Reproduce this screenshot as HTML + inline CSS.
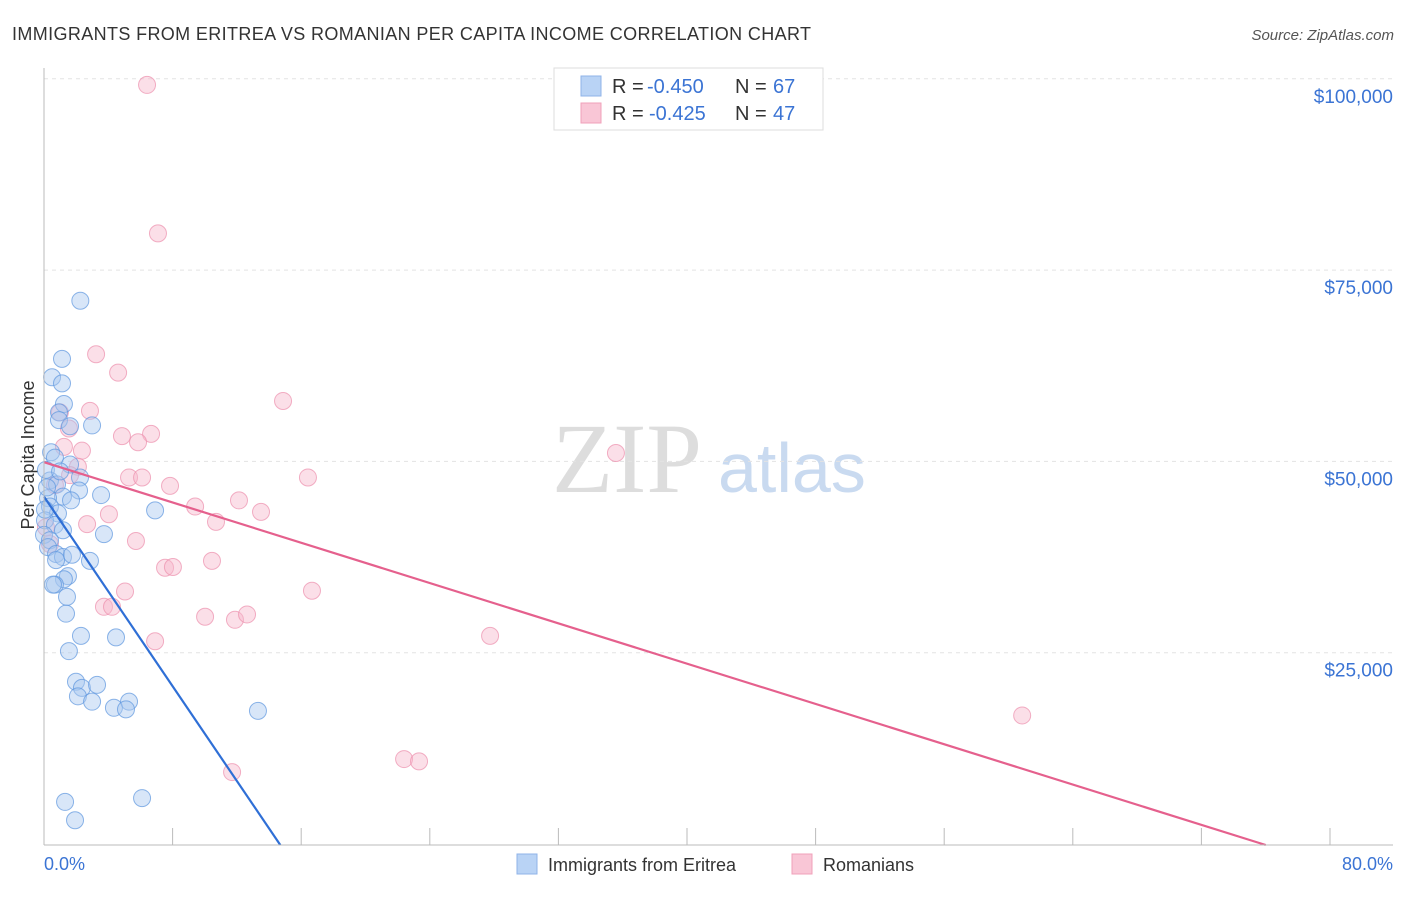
<!DOCTYPE html>
<html><head><meta charset="utf-8"><style>
body{margin:0;background:#fff;font-family:"Liberation Sans",sans-serif}
</style></head><body>
<svg id="c" width="1406" height="892" xmlns="http://www.w3.org/2000/svg">
<text x="12" y="40" font-size="18" fill="#333" textLength="799">IMMIGRANTS FROM ERITREA VS ROMANIAN PER CAPITA INCOME CORRELATION CHART</text>
<text x="1394" y="40" font-size="15" fill="#555" font-style="italic" text-anchor="end">Source: ZipAtlas.com</text>
<text x="34" y="455" font-size="18" fill="#333" transform="rotate(-90 34 455)" text-anchor="middle">Per Capita Income</text>
<text x="552" y="492" font-size="100" fill="#ddd" font-family="Liberation Serif,serif">ZIP</text>
<text x="718" y="492" font-size="70" fill="#c9daf0">atlas</text>
<g id="grid"></g><g id="pts"></g><g id="lines"></g>
<line x1="44" y1="68" x2="44" y2="845" stroke="#bbb"/>
<line x1="44" y1="845" x2="1393" y2="845" stroke="#bbb"/>
<text x="44" y="870" font-size="18" fill="#3b74d4">0.0%</text>
<text x="1393" y="870" font-size="18" fill="#3b74d4" text-anchor="end">80.0%</text>
<g>
<rect x="554" y="68" width="269" height="62" fill="#fff" stroke="#ddd"/>
<rect x="581" y="76" width="20" height="20" fill="#b9d3f5" stroke="#8fb3e8"/>
<rect x="581" y="103" width="20" height="20" fill="#f9c6d6" stroke="#f0a0ba"/>
<text x="612" y="93" font-size="20" fill="#333">R =</text>
<text x="647" y="93" font-size="20" fill="#3b74d4">-0.450</text>
<text x="735" y="93" font-size="20" fill="#333">N =</text>
<text x="773" y="93" font-size="20" fill="#3b74d4">67</text>
<text x="612" y="120" font-size="20" fill="#333">R =</text>
<text x="649" y="120" font-size="20" fill="#3b74d4">-0.425</text>
<text x="735" y="120" font-size="20" fill="#333">N =</text>
<text x="773" y="120" font-size="20" fill="#3b74d4">47</text>
</g>
<g>
<rect x="517" y="854" width="20" height="20" fill="#b9d3f5" stroke="#8fb3e8"/>
<text x="548" y="871" font-size="18" fill="#333">Immigrants from Eritrea</text>
<rect x="792" y="854" width="20" height="20" fill="#f9c6d6" stroke="#f0a0ba"/>
<text x="823" y="871" font-size="18" fill="#333">Romanians</text>
</g>
</svg>
<script>
const yTicks=[25000,50000,75000,100000];
const yTickLabels=["$25,000","$50,000","$75,000","$100,000"];
const xTicks=[8,16,24,32,40,48,56,64,72,80];
const blueX=[2.26,1.12,0.50,1.12,1.24,0.93,0.93,1.62,2.99,0.44,0.68,1.62,2.24,0.37,0.81,2.18,1.18,0.25,3.55,1.68,6.91,0.37,0.87,0.06,0.68,1.18,0,0.37,3.73,0.25,0.75,1.18,1.74,2.86,0.75,1.49,1.24,0.68,0.56,1.43,1.37,2.30,4.48,1.55,1.99,2.36,3.30,2.11,2.99,5.29,4.35,5.10,13.31,1.31,6.10,1.93,0.06,0.12,0.19,1.00];
const blueY=[71000,63400,61000,60200,57500,56400,55400,54600,54700,51200,50500,49600,47900,47500,47000,46200,45400,45200,45600,44900,43600,44100,43200,42300,41700,41000,40400,39700,40500,38800,37900,37500,37800,37000,37100,35000,34600,33900,33900,32300,30100,27200,27000,25200,21200,20400,20800,19300,18600,18600,17800,17600,17400,5500,6000,3100,43700,48900,46600,48700];
const pinkX=[6.41,7.09,3.24,4.61,14.87,2.86,0.99,1.55,4.85,6.66,5.85,1.24,2.36,2.11,5.29,6.10,16.42,35.58,7.84,9.40,12.13,13.50,4.04,2.68,10.70,5.72,10.45,7.53,8.02,16.67,5.04,3.73,4.23,10.02,11.88,12.63,6.91,27.75,60.85,22.40,23.33,11.70,0.12,0.68,0.37,1.62];
const pinkY=[99200,79800,64000,61600,57900,56600,56400,54300,53300,53600,52500,51900,51400,49300,47900,47900,47900,51100,46800,44100,44900,43400,43100,41800,42100,39600,37000,36100,36200,33100,33000,31000,31000,29700,29300,30000,26500,27200,16800,11100,10800,9400,41400,46900,39200,48200];
const blueLine=[[0,45400],[14.7,0]];
const pinkLine=[[0,49900],[76,0]];
const xs=v=>44+v/80*1286;
const ys=v=>844-v/25000*191.3;
const gy=v=>845-v/25000*191.3-1;
const NS="http://www.w3.org/2000/svg";
const grid=document.getElementById('grid');
yTicks.forEach((t,i)=>{
 const y=gy(t);
 const l=document.createElementNS(NS,'line');
 l.setAttribute('x1',44);l.setAttribute('x2',1393);l.setAttribute('y1',y);l.setAttribute('y2',y);
 l.setAttribute('stroke','#e3e3e3');l.setAttribute('stroke-dasharray','4,4');
 
 
 grid.appendChild(l);
 const tx=document.createElementNS(NS,'text');
 tx.setAttribute('x',1393);tx.setAttribute('y',y+24);tx.setAttribute('text-anchor','end');
 tx.setAttribute('font-size','19');tx.setAttribute('fill','#3b74d4');tx.textContent=yTickLabels[i];
 
 
 grid.appendChild(tx);
});
xTicks.forEach(t=>{
 const l=document.createElementNS(NS,'line');
 l.setAttribute('x1',xs(t));l.setAttribute('x2',xs(t));l.setAttribute('y1',828);l.setAttribute('y2',845);
 l.setAttribute('stroke','#bbb');
 
 
 grid.appendChild(l);
});
const pts=document.getElementById('pts');
function dots(X,Y,fill,stroke,name){
 X.forEach((x,i)=>{
  const c=document.createElementNS(NS,'circle');
  c.setAttribute('cx',xs(x));c.setAttribute('cy',ys(Y[i]));c.setAttribute('r',8.5);
  c.setAttribute('fill',fill);c.setAttribute('fill-opacity','0.45');c.setAttribute('stroke',stroke);c.setAttribute('stroke-opacity','0.7');
  
  
  pts.appendChild(c);
 });
}
dots(pinkX,pinkY,'#f7b8cb','#ec8fac','romanian-point');
dots(blueX,blueY,'#a9c8f0','#5d95de','eritrea-point');
const lines=document.getElementById('lines');
function line(p,col,name){
 const l=document.createElementNS(NS,'line');
 l.setAttribute('x1',xs(p[0][0]));l.setAttribute('y1',ys(p[0][1]));l.setAttribute('x2',xs(p[1][0]));l.setAttribute('y2',Math.min(845,ys(p[1][1])+1));
 l.setAttribute('stroke',col);l.setAttribute('stroke-width','2.2');
 
 
 lines.appendChild(l);
}
line(pinkLine,'#e5608d','romanian-trend-line');
line(blueLine,'#2f6fd6','eritrea-trend-line');
</script>
</body></html>
